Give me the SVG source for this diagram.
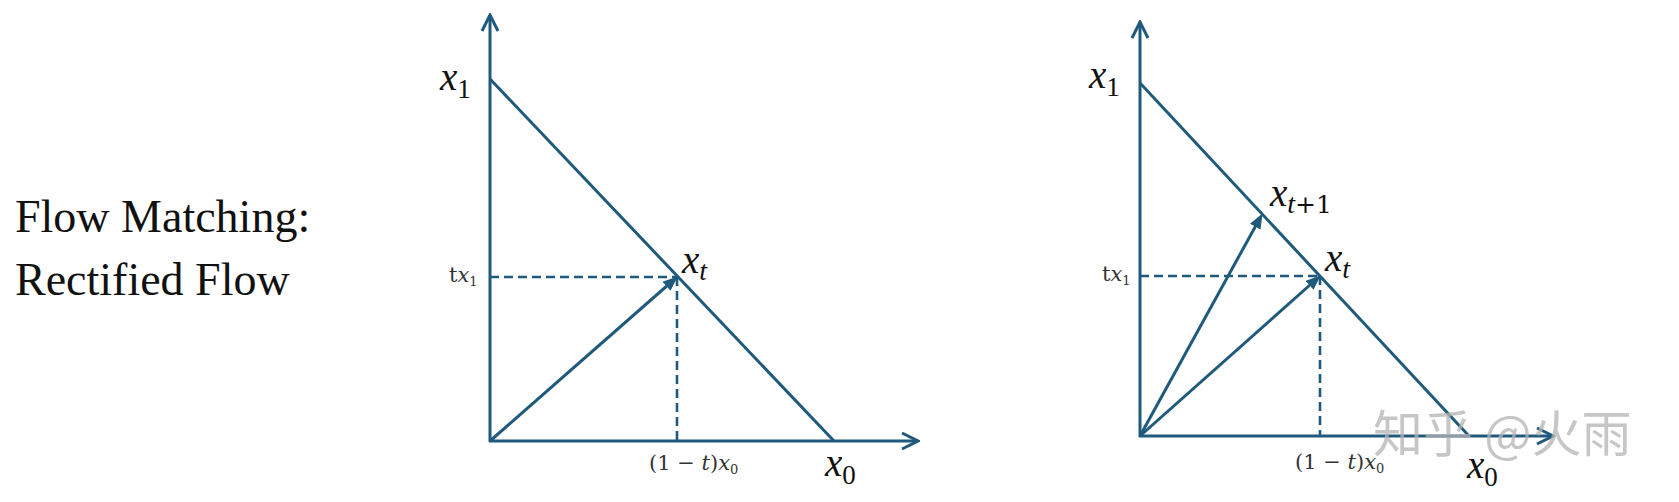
<svg xmlns="http://www.w3.org/2000/svg" width="1679" height="502" viewBox="0 0 1679 502">
<style>
.ln{stroke:#1f5a7c;stroke-width:3;fill:none}
.ds{stroke:#1f5a7c;stroke-width:2.6;fill:none;stroke-dasharray:9 5}
.ax{marker-end:url(#open)}
.vec{marker-end:url(#fill)}
.ttl{font-family:"Liberation Serif","Times New Roman",serif;font-size:46px;fill:#111}
.m{font-family:"Liberation Serif","Times New Roman",serif;fill:#111}
.big{font-size:39px}
.sm{font-family:"DejaVu Serif","Liberation Serif",serif;font-size:21px;fill:#333}
.i{font-style:italic}
.wm{font-family:"Noto Sans CJK SC","Noto Sans",sans-serif;font-size:50px;fill:#b4b4b4;opacity:0.75}
</style>
<defs>
<marker id="open" markerUnits="userSpaceOnUse" viewBox="0 0 20 20" refX="18" refY="10" markerWidth="20" markerHeight="20" orient="auto">
<path d="M2,2 L18,10 L2,18" fill="none" stroke="#1f5a7c" stroke-width="3" stroke-linejoin="miter"/>
</marker>
<marker id="fill" markerUnits="userSpaceOnUse" viewBox="0 0 16 12" refX="8" refY="6" markerWidth="16" markerHeight="12" orient="auto">
<path d="M0,0 L15,6 L0,12 z" fill="#1f5a7c"/>
</marker>
</defs>
<rect width="1679" height="502" fill="#ffffff"/>

<g id="title">
<text class="ttl" x="15" y="232">Flow Matching:</text>
<text class="ttl" x="15" y="295">Rectified Flow</text>
</g>

<g id="connectors">
<!-- left diagram -->
<line class="ln ax" x1="490" y1="442" x2="490" y2="15"/>
<line class="ln ax" x1="489" y1="441" x2="918" y2="441"/>
<line class="ln" x1="490" y1="79" x2="834" y2="441"/>
<line class="ds" x1="490" y1="277" x2="677" y2="277"/>
<line class="ds" x1="677" y1="277" x2="677" y2="441"/>
<line class="ln vec" x1="490" y1="441" x2="672.5" y2="281"/>
<!-- right diagram -->
<line class="ln ax" x1="1140" y1="437" x2="1140" y2="22"/>
<line class="ln ax" x1="1139" y1="436" x2="1553" y2="436"/>
<line class="ln" x1="1140" y1="83" x2="1469" y2="436"/>
<line class="ds" x1="1140" y1="276" x2="1320" y2="276"/>
<line class="ds" x1="1320" y1="276" x2="1320" y2="436"/>
<line class="ln vec" x1="1140" y1="436" x2="1315.5" y2="280"/>
<line class="ln vec" x1="1140" y1="436" x2="1259.1" y2="219.7"/>
</g>

<g id="left-labels">
<text class="m big i" x="440" y="90">x<tspan font-style="normal" font-size="27" dy="8">1</tspan></text>
<text class="m big i" x="682" y="273">x<tspan font-size="28" dy="7">t</tspan></text>
<text class="sm" x="449" y="282">t<tspan class="i">x</tspan><tspan font-size="13" dy="4">1</tspan></text>
<text class="sm" x="649" y="470">(1 − <tspan class="i">t</tspan>)<tspan class="i">x</tspan><tspan font-size="13" dy="4">0</tspan></text>
<text class="m big i" x="825" y="476">x<tspan font-style="normal" font-size="27" dy="8">0</tspan></text>
</g>

<g id="right-labels">
<text class="m big i" x="1089" y="88">x<tspan font-style="normal" font-size="27" dy="8">1</tspan></text>
<text class="m big i" x="1270" y="206">x<tspan font-size="28" dy="7">t</tspan><tspan font-family="DejaVu Serif, serif" font-style="normal" font-size="25">+1</tspan></text>
<text class="m big i" x="1325" y="271">x<tspan font-size="28" dy="7">t</tspan></text>
<text class="sm" x="1102" y="281">t<tspan class="i">x</tspan><tspan font-size="13" dy="4">1</tspan></text>
<text class="sm" x="1295" y="469">(1 − <tspan class="i">t</tspan>)<tspan class="i">x</tspan><tspan font-size="13" dy="4">0</tspan></text>
<text class="m big i" x="1467" y="478">x<tspan font-style="normal" font-size="27" dy="8">0</tspan></text>
</g>

<g id="watermark">
<text class="wm" x="1373" y="452">知乎 @火雨</text>
</g>
</svg>
